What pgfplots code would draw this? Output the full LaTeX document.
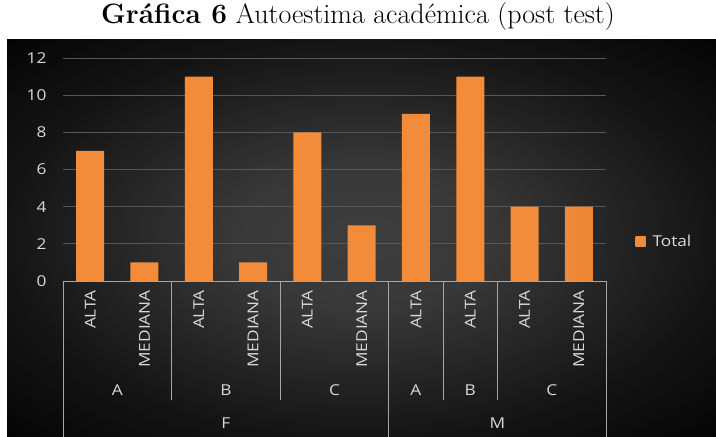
\documentclass[border=0pt]{standalone}
\usepackage{pgfplots}
\pgfplotsset{compat=1.18}
\usepackage{fontspec}
\newfontfamily\chartfont[FakeStretch=1.15]{Open Sans}
\definecolor{barmid}{HTML}{F28C3A}
\definecolor{baredge}{HTML}{D2651C}
\definecolor{lbl}{HTML}{D9D9D9}
\definecolor{gridc}{HTML}{575757}
\definecolor{sepc}{HTML}{A6A6A6}
\pgfdeclareradialshading{bgshade}{\pgfpoint{0bp}{0bp}}{color(0bp)=(black!76); color(9bp)=(black!78); color(25bp)=(black!92); color(35bp)=(black!98); color(50bp)=(black)}
\pgfdeclarehorizontalshading{barshade}{100bp}{color(0bp)=(baredge); color(22bp)=(barmid); color(70bp)=(barmid); color(100bp)=(baredge)}
\begin{document}
\begin{tikzpicture}[x=1pt,y=1pt]
\path[use as bounding box] (0,0) rectangle (716,437);
\shade[shading=bgshade] (7,0) rectangle (716,397);
\node[font=\fontsize{28}{32}\selectfont, anchor=base] at (358,413) {\textbf{Gráfica 6} Autoestima académica (post test)};
\begin{axis}[
  at={(63pt,156pt)}, anchor=south west,
  scale only axis, width=543pt, height=223pt,
  xmin=-0.5, xmax=9.5, ymin=0, ymax=12,
  ytick={0,2,...,12}, xtick={0,...,9},
  xticklabels={ALTA,MEDIANA,ALTA,MEDIANA,ALTA,MEDIANA,ALTA,ALTA,ALTA,MEDIANA},
  ybar, bar width=28pt,
  axis x line*=bottom, axis y line*=left,
  y axis line style={draw=none},
  x axis line style={sepc, line width=0.9pt, -},
  major tick length=0pt,
  ymajorgrids, grid style={gridc, line width=0.8pt},
  clip=false,
  /pgf/number format/assume math mode=true,
  ticklabel style={font=\chartfont\fontsize{15}{17}\selectfont, text=lbl},
  yticklabel style={xshift=-13pt},
  xticklabel style={rotate=90, anchor=east, inner xsep=9pt},
  legend style={at={(1.054,0.175)}, anchor=west, draw=none, fill=none, text=lbl,
    font=\chartfont\fontsize{15}{17}\selectfont, inner xsep=0pt},
  legend image code/.code={\shade[shading=barshade] (0pt,-5pt) rectangle (10pt,5pt); \path (15pt,0pt);},
]
\addplot[shading=barshade, draw=none] coordinates {(0,7) (1,1) (2,11) (3,1) (4,8) (5,3) (6,9) (7,11) (8,4) (9,4)};
\addlegendentry{Total}
\pgfplotsinvokeforeach{1.5,3.5,6.5,7.5}{
  \draw[sepc, line width=0.9pt] (axis cs:#1,0) -- ([yshift=-119pt]axis cs:#1,0);
}
\pgfplotsinvokeforeach{-0.5,5.5,9.5}{
  \draw[sepc, line width=0.9pt] (axis cs:#1,0) -- ([yshift=-160pt]axis cs:#1,0);
}
\node[font=\chartfont\fontsize{15}{17}\selectfont, text=lbl] at ([yshift=-109pt]axis cs:0.5,0) {A};
\node[font=\chartfont\fontsize{15}{17}\selectfont, text=lbl] at ([yshift=-109pt]axis cs:2.5,0) {B};
\node[font=\chartfont\fontsize{15}{17}\selectfont, text=lbl] at ([yshift=-109pt]axis cs:4.5,0) {C};
\node[font=\chartfont\fontsize{15}{17}\selectfont, text=lbl] at ([yshift=-109pt]axis cs:6,0) {A};
\node[font=\chartfont\fontsize{15}{17}\selectfont, text=lbl] at ([yshift=-109pt]axis cs:7,0) {B};
\node[font=\chartfont\fontsize{15}{17}\selectfont, text=lbl] at ([yshift=-109pt]axis cs:8.5,0) {C};
\node[font=\chartfont\fontsize{15}{17}\selectfont, text=lbl] at ([yshift=-142pt]axis cs:2.5,0) {F};
\node[font=\chartfont\fontsize{15}{17}\selectfont, text=lbl] at ([yshift=-142pt]axis cs:7.5,0) {M};
\end{axis}
\end{tikzpicture}
\end{document}
